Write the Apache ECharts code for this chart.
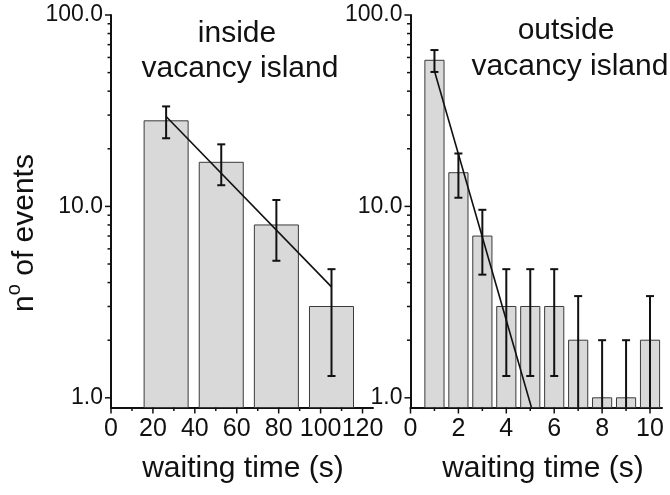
<!DOCTYPE html>
<html>
<head>
<meta charset="utf-8">
<script src="https://cdn.jsdelivr.net/npm/echarts@6/dist/echarts.min.js"></script>
<style>html,body{margin:0;padding:0;background:#fff}#c{width:670px;height:495px}</style>
</head>
<body>
<div id="c"></div>
<script>
// ---- data ----
const leftX = [26.3, 52.6, 78.9, 105.2];
const leftCounts = [28, 17, 8, 3];
const leftErr = [5.3, 4.1, 2.8, 1.7];
const leftFitX = [26.3, 105.2];
const leftFitY = [29.5, 3.8];

const rightX = [1, 2, 3, 4, 5, 6, 7, 8, 9, 10];
const rightCounts = [58, 15, 7, 3, 3, 3, 2, 1, 1, 2];
const rightErr = [7.6, 3.9, 2.6, 1.7, 1.7, 1.7, 1.4, 1.0, 1.0, 1.4];
const rightFitX = [1, 5.05];
const rightFitY = [51, 0.89];

const yMajor = [1, 10, 100];
const yMinor = [2, 3, 4, 5, 6, 7, 8, 9, 20, 30, 40, 50, 60, 70, 80, 90];
const leftXMajor = [0, 20, 40, 60, 80, 100, 120];
const leftXMinor = [10, 30, 50, 70, 90, 110];
const rightXMajor = [0, 2, 4, 6, 8, 10];
const rightXMinor = [1, 3, 5, 7, 9];

const Y_MIN = 0.89, Y_MAX = 100;
const LEFT_BIN = 21, RIGHT_BIN = 0.8;

// ---- helpers ----
const FONT = '"Liberation Sans", Arial, sans-serif';
const BLACK = '#111';

function pairs(xs, ys) { return xs.map((x, i) => [x, ys[i]]); }
function triples(xs, ys, es) { return xs.map((x, i) => [x, ys[i], es[i]]); }

function barRender(binW) {
  return function (params, api) {
    const x = api.value(0), v = api.value(1);
    const p1 = api.coord([x - binW / 2, v]);
    const p2 = api.coord([x + binW / 2, Y_MIN]);
    return {
      type: 'rect',
      shape: { x: p1[0], y: p1[1], width: p2[0] - p1[0], height: p2[1] - p1[1] },
      style: { fill: '#d9d9d9', stroke: '#3a3a3a', lineWidth: 1 }
    };
  };
}
function errRender(params, api) {
  const x = api.value(0), v = api.value(1), e = api.value(2);
  const hi = v + e, lo = v - e;
  const pHi = api.coord([x, hi]);
  const clipped = !(lo > Y_MIN);
  const pLo = api.coord([x, clipped ? Y_MIN : lo]);
  const cw = 4;
  const st = { stroke: BLACK, lineWidth: 2 };
  const children = [
    { type: 'line', shape: { x1: pHi[0], y1: pHi[1], x2: pLo[0], y2: pLo[1] }, style: st },
    { type: 'line', shape: { x1: pHi[0] - cw, y1: pHi[1], x2: pHi[0] + cw, y2: pHi[1] }, style: st }
  ];
  if (!clipped) children.push({ type: 'line', shape: { x1: pLo[0] - cw, y1: pLo[1], x2: pLo[0] + cw, y2: pLo[1] }, style: st });
  return { type: 'group', children: children };
}
// axis ticks drawn through the axes' own scales
function yTickRender(len) {
  return function (params, api) {
    const p = api.coord([0, api.value(0)]);
    return { type: 'line', shape: { x1: p[0] - len, y1: p[1], x2: p[0], y2: p[1] }, style: { stroke: BLACK, lineWidth: 1.5 } };
  };
}
function xTickRender(len) {
  return function (params, api) {
    const p = api.coord([api.value(0), Y_MIN]);
    return { type: 'line', shape: { x1: p[0], y1: p[1], x2: p[0], y2: p[1] + len }, style: { stroke: BLACK, lineWidth: 1.5 } };
  };
}
function tickSeries(gi, render, vals) {
  return { type: 'custom', xAxisIndex: gi, yAxisIndex: gi, renderItem: render, clip: false, silent: true, z: 5,
    data: vals.map(v => [v]), encode: { x: 0, y: 0 } };
}

function yAxis(gi) {
  return {
    type: 'log', logBase: 10, gridIndex: gi, min: Y_MIN, max: Y_MAX, position: 'left',
    axisLine: { show: true, lineStyle: { color: BLACK, width: 2 } },
    axisTick: { show: false },
    axisLabel: { show: true, customValues: yMajor, margin: 8, fontSize: 23, fontFamily: FONT, color: BLACK,
      hideOverlap: false, formatter: v => Number(v).toFixed(1) },
    splitLine: { show: false }, minorTick: { show: false }
  };
}
function xAxis(gi, max, ticks) {
  return {
    type: 'value', gridIndex: gi, min: 0, max: max, position: 'bottom',
    axisLine: { show: true, onZero: false, lineStyle: { color: BLACK, width: 2 } },
    axisTick: { show: false },
    axisLabel: { show: true, customValues: ticks, margin: 9, fontSize: 25, fontFamily: FONT, color: BLACK,
      hideOverlap: false, interval: 0, showMinLabel: true, showMaxLabel: true },
    splitLine: { show: false }
  };
}

const chart = echarts.init(document.getElementById('c'), null, { renderer: 'canvas' });
chart.setOption({
  animation: false,
  backgroundColor: '#fff',
  grid: [
    { left: 111, top: 15, width: 262, height: 392.5 },
    { left: 410.5, top: 15, width: 251.5, height: 392.5 }
  ],
  xAxis: [ xAxis(0, 125, leftXMajor), xAxis(1, 10.5, rightXMajor) ],
  yAxis: [ yAxis(0), yAxis(1) ],
  series: [
    { type: 'custom', xAxisIndex: 0, yAxisIndex: 0, renderItem: barRender(LEFT_BIN), data: pairs(leftX, leftCounts), z: 1 },
    { type: 'custom', xAxisIndex: 1, yAxisIndex: 1, renderItem: barRender(RIGHT_BIN), data: pairs(rightX, rightCounts), z: 1 },
    { type: 'line', xAxisIndex: 0, yAxisIndex: 0, data: pairs(leftFitX, leftFitY), symbol: 'none', lineStyle: { color: BLACK, width: 1.6 }, z: 3, clip: true },
    { type: 'line', xAxisIndex: 1, yAxisIndex: 1, data: pairs(rightFitX, rightFitY), symbol: 'none', lineStyle: { color: BLACK, width: 1.6 }, z: 3, clip: true },
    { type: 'custom', xAxisIndex: 0, yAxisIndex: 0, renderItem: errRender, data: triples(leftX, leftCounts, leftErr), z: 4 },
    { type: 'custom', xAxisIndex: 1, yAxisIndex: 1, renderItem: errRender, data: triples(rightX, rightCounts, rightErr), z: 4 },
    tickSeries(0, yTickRender(6), yMajor),
    tickSeries(0, yTickRender(3.5), yMinor),
    tickSeries(1, yTickRender(6), yMajor),
    tickSeries(1, yTickRender(3.5), yMinor),
    tickSeries(0, xTickRender(6), leftXMajor),
    tickSeries(0, xTickRender(3.5), leftXMinor),
    tickSeries(1, xTickRender(6), rightXMajor),
    tickSeries(1, xTickRender(3.5), rightXMinor)
  ],
  graphic: [
    { type: 'text', x: 237, y: 34, style: { text: 'inside', font: '30px ' + FONT, fill: BLACK, align: 'center', verticalAlign: 'middle' } },
    { type: 'text', x: 240, y: 69, style: { text: 'vacancy island', font: '30px ' + FONT, fill: BLACK, align: 'center', verticalAlign: 'middle' } },
    { type: 'text', x: 566, y: 31, style: { text: 'outside', font: '30px ' + FONT, fill: BLACK, align: 'center', verticalAlign: 'middle' } },
    { type: 'text', x: 570, y: 67, style: { text: 'vacancy island', font: '30px ' + FONT, fill: BLACK, align: 'center', verticalAlign: 'middle' } },
    { type: 'text', x: 243, y: 469, style: { text: 'waiting time (s)', font: '30px ' + FONT, fill: BLACK, align: 'center', verticalAlign: 'middle' } },
    { type: 'text', x: 543, y: 469, style: { text: 'waiting time (s)', font: '30px ' + FONT, fill: BLACK, align: 'center', verticalAlign: 'middle' } },
    { type: 'text', x: 22, y: 233, rotation: Math.PI / 2,
      style: { text: '{n|n}{o|o}{t| of events}', fill: BLACK, align: 'center', verticalAlign: 'middle',
        rich: {
          n: { fontSize: 30, fontFamily: FONT, fill: BLACK, lineHeight: 36, verticalAlign: 'bottom' },
          o: { fontSize: 20, fontFamily: FONT, fill: BLACK, lineHeight: 36, verticalAlign: 'top' },
          t: { fontSize: 30, fontFamily: FONT, fill: BLACK, lineHeight: 36, verticalAlign: 'bottom' }
        } } }
  ]
});
</script>
</body>
</html>
